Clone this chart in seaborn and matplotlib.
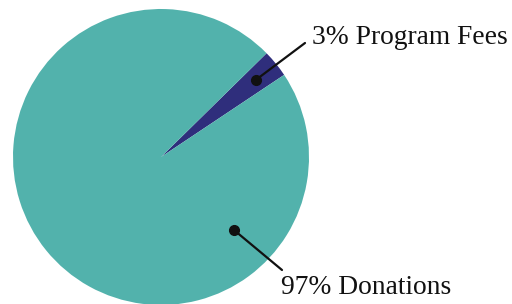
import numpy as np
import matplotlib
matplotlib.use("Agg")
import matplotlib.pyplot as plt
import seaborn as sns

# data
labels = ["Program Fees", "Donations"]
shares = [3, 97]
colors = ["#2f2e7c", "#52b2ac"]

sns.set_theme(style="white")
plt.rcParams['font.family'] = ['Liberation Serif', 'DejaVu Serif']

W, H = 512, 304
fig = plt.figure(figsize=(W / 100, H / 100), dpi=100)
fig.patch.set_facecolor("white")

# pie centre / radius in pixels
cx, cy, r = 161, 157, 148
ax = fig.add_axes([(cx - r) / W, (H - cy - r) / H, 2 * r / W, 2 * r / H])
wedges, _ = ax.pie(shares, colors=colors, startangle=33.7, counterclock=True,
                   wedgeprops=dict(linewidth=0), radius=1)
ax.set_xlim(-1, 1)
ax.set_ylim(-1, 1)
ax.set_aspect("equal")
ax.axis("off")


def px2data(px, py):
    return (px - cx) / r, (cy - py) / r


# label anchors: fees dot at wedge middle, donations dot lower right
w0 = wedges[0]
mid = np.deg2rad((w0.theta1 + w0.theta2) / 2)
anchors = [(0.83 * np.cos(mid), 0.83 * np.sin(mid)),
           (0.70 * np.cos(np.deg2rad(-45)), 0.70 * np.sin(np.deg2rad(-45)))]
line_ends = [px2data(305, 43), px2data(282, 270)]
text_pos = [(312, 38, "center"), (281, 287, "center")]

for lab, val, a, e, t in zip(labels, shares, anchors, line_ends, text_pos):
    ax.plot([a[0], e[0]], [a[1], e[1]], color="#111111", lw=1.6, clip_on=False)
    ax.plot(a[0], a[1], "o", color="#111111", ms=7, clip_on=False)
    fig.text(t[0] / W, 1 - t[1] / H, f"{val}% {lab}", ha="left", va=t[2],
             fontsize=19.8, color="#111111")

fig.savefig("out.png", dpi=100)
